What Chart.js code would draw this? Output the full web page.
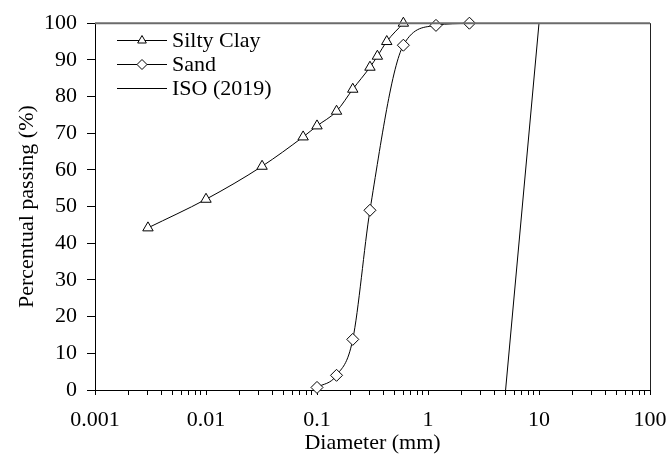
<!DOCTYPE html>
<html lang="en">
<head>
    <meta charset="UTF-8">
    <title>Particle size distribution</title>
    <style>
        body {
            margin: 0;
            padding: 0;
            background: #ffffff;
        }
        .chart-box {
            position: relative;
            width: 667px;
            height: 454px;
        }
    </style>
    <script src="https://cdn.jsdelivr.net/npm/chart.js"></script>
</head>
<body>
    <div class="chart-box">
        <canvas id="gradingChart"></canvas>
    </div>

    <script>
        // values
        const siltyClayDiameter = [0.003, 0.01, 0.032, 0.075, 0.1, 0.15, 0.21, 0.3, 0.35, 0.425, 0.6];
        const siltyClayPassing = [44.2, 52, 61, 69, 72, 76, 82, 88, 91, 95, 100];

        const sandDiameter = [0.1, 0.15, 0.21, 0.3, 0.6, 1.18, 2.36];
        const sandPassing = [0.7, 4, 13.8, 49, 94, 99.4, 100];

        const isoDiameter = [5, 10];
        const isoPassing = [0, 100];

        const decadeValues = [0.001, 0.01, 0.1, 1, 10, 100];
        const decadeLabels = ['0.001', '0.01', '0.1', '1', '10', '100'];

        const seriesNames = ['Silty Clay', 'Sand', 'ISO (2019)'];

        const serif = "'Liberation Serif', 'Times New Roman', serif";
        const fontSize = 22;

        function toPoints(xs, ys) {
            return xs.map((x, i) => ({ x: x, y: ys[i] }));
        }

        // 1..9 x 10^n minor ticks between the decades
        const xTickValues = [];
        decadeValues.forEach((d, i) => {
            if (i === decadeValues.length - 1) {
                xTickValues.push(d);
                return;
            }
            for (let m = 1; m <= 9; m++) xTickValues.push(+(d * m).toPrecision(3));
        });

        const frameAndLegend = {
            id: 'frameAndLegend',
            afterDraw(chart) {
                const ctx = chart.ctx;
                const area = chart.chartArea;
                ctx.save();

                // top and right edges of the plot frame
                ctx.strokeStyle = '#6b6b6b';
                ctx.lineWidth = 2;
                ctx.beginPath();
                ctx.moveTo(area.left, area.top);
                ctx.lineTo(area.right, area.top);
                ctx.stroke();
                ctx.strokeStyle = '#222';
                ctx.lineWidth = 1;
                ctx.beginPath();
                ctx.moveTo(area.right + 0.5, area.top);
                ctx.lineTo(area.right + 0.5, area.bottom);
                ctx.stroke();

                // legend inside the plot, top left
                const rowY = [40, 64, 88];
                ctx.font = fontSize + 'px ' + serif;
                ctx.textBaseline = 'alphabetic';
                ctx.textAlign = 'left';
                chart.data.datasets.forEach((ds, i) => {
                    const y = rowY[i] + 0.5;
                    ctx.strokeStyle = '#000';
                    ctx.lineWidth = 1;
                    ctx.beginPath();
                    ctx.moveTo(117, y);
                    ctx.lineTo(167, y);
                    ctx.stroke();
                    if (ds.pointRadius > 0) {
                        ctx.fillStyle = '#fff';
                        ctx.strokeStyle = '#000';
                        Chart.helpers.drawPoint(ctx, {
                            pointStyle: ds.pointStyle,
                            radius: ds.pointRadius - 1,
                            borderWidth: 1,
                            rotation: 0
                        }, 142, y);
                    }
                    ctx.fillStyle = '#000';
                    ctx.fillText(ds.label, 172, rowY[i] + 7);
                });
                ctx.restore();
            }
        };

        const ctx = document.getElementById('gradingChart').getContext('2d');
        new Chart(ctx, {
            type: 'scatter',
            data: {
                datasets: [{
                    label: seriesNames[0],
                    data: toPoints(siltyClayDiameter, siltyClayPassing),
                    showLine: true,
                    cubicInterpolationMode: 'monotone',
                    borderColor: '#000',
                    borderWidth: 1,
                    pointStyle: 'triangle',
                    pointRadius: 6,
                    pointBackgroundColor: '#fff',
                    pointBorderColor: '#000',
                    pointBorderWidth: 1,
                    clip: false
                }, {
                    label: seriesNames[1],
                    data: toPoints(sandDiameter, sandPassing),
                    showLine: true,
                    cubicInterpolationMode: 'monotone',
                    borderColor: '#000',
                    borderWidth: 1,
                    pointStyle: 'rectRot',
                    pointRadius: 6,
                    pointBackgroundColor: '#fff',
                    pointBorderColor: '#000',
                    pointBorderWidth: 1,
                    clip: false
                }, {
                    label: seriesNames[2],
                    data: toPoints(isoDiameter, isoPassing),
                    showLine: true,
                    borderColor: '#000',
                    borderWidth: 1,
                    pointRadius: 0,
                    clip: false
                }]
            },
            options: {
                responsive: true,
                maintainAspectRatio: false,
                animation: false,
                layout: {
                    padding: { top: 21, right: 0, left: 0, bottom: 0 }
                },
                plugins: {
                    legend: { display: false },
                    tooltip: { enabled: false }
                },
                scales: {
                    x: {
                        type: 'logarithmic',
                        min: 0.001,
                        max: 100,
                        afterBuildTicks: (scale) => {
                            scale.ticks = xTickValues.map(v => ({ value: v }));
                        },
                        afterFit: (scale) => {
                            scale.height = 64;
                            scale.paddingRight = 17;
                            scale.paddingLeft = 0;
                        },
                        grid: {
                            drawOnChartArea: false,
                            drawTicks: true,
                            tickLength: 5,
                            color: '#000'
                        },
                        border: { display: true, color: '#000', width: 1 },
                        ticks: {
                            autoSkip: false,
                            maxRotation: 0,
                            padding: 12,
                            color: '#000',
                            font: { family: serif, size: fontSize },
                            callback: (value) => {
                                const i = decadeValues.findIndex(d => Math.abs(d - value) / d < 1e-6);
                                return i >= 0 ? decadeLabels[i] : '';
                            }
                        },
                        title: {
                            display: true,
                            text: 'Diameter (mm)',
                            color: '#000',
                            font: { family: serif, size: fontSize, lineHeight: 1 },
                            padding: { top: 0, bottom: 0 }
                        }
                    },
                    y: {
                        min: 0,
                        max: 100,
                        afterFit: (scale) => { scale.width = 95; },
                        grid: {
                            drawOnChartArea: false,
                            drawTicks: true,
                            tickLength: 8,
                            color: '#000'
                        },
                        border: { display: true, color: '#000', width: 1 },
                        ticks: {
                            stepSize: 10,
                            padding: 10,
                            color: '#000',
                            font: { family: serif, size: fontSize }
                        },
                        title: {
                            display: true,
                            text: 'Percentual passing (%)',
                            color: '#000',
                            font: { family: serif, size: fontSize, lineHeight: 1 },
                            padding: { top: 16, bottom: 0 }
                        }
                    }
                }
            },
            plugins: [frameAndLegend]
        });
    </script>
</body>
</html>
